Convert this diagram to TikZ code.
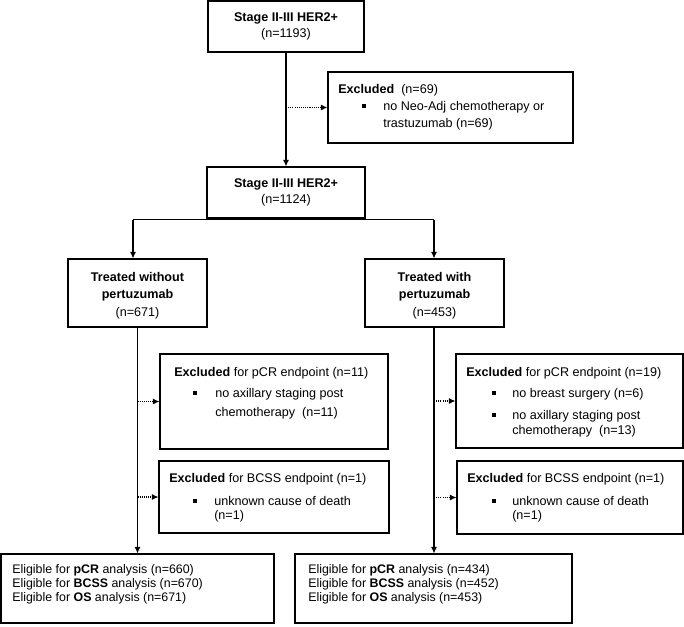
\documentclass[tikz,border=0pt]{standalone}
\usepackage{fontspec}
\setmainfont{Liberation Sans}
\usetikzlibrary{arrows.meta,fit}
\begin{document}
\begin{tikzpicture}[x=0.75pt,y=-0.75pt,
  box/.style={draw, line width=0.8pt, inner sep=0pt},
  txt/.style={anchor=base west, inner sep=0pt, font=\fontsize{9.45}{11}\selectfont},
  ctxt/.style={anchor=base, inner sep=0pt, font=\fontsize{9.45}{11}\selectfont},
  etxt/.style={anchor=base west, inner sep=0pt, font=\fontsize{9.3}{11}\selectfont},
  bul/.style={fill, inner sep=0pt, minimum size=2.5pt},
  arr/.style={line width=0.8pt, -{Latex[length=5pt,width=4.6pt]}},
  darr/.style={line width=0.8pt, dash pattern=on 0.8pt off 0.8pt, -{Latex[length=5pt,width=4.6pt]}},
  ln/.style={line width=0.8pt}]
\useasboundingbox (0,0) rectangle (684,626);

% boxes
\node[box, fit={(208,1)(364,52)}] (A) {};
\node[box, fit={(328,72)(573,143)}] (E1) {};
\node[box, fit={(207,167)(365,218)}] (B) {};
\node[box, fit={(68,259)(207,327)}] (T1) {};
\node[box, fit={(365,259)(504,327)}] (T2) {};
\node[box, fit={(160,354)(388,449)}] (P1) {};
\node[box, fit={(159,461)(389,533)}] (C1) {};
\node[box, fit={(456,354)(683,448)}] (P2) {};
\node[box, fit={(457,461)(683,534)}] (C2) {};
\node[box, fit={(1,554)(274,623)}] (L) {};
\node[box, fit={(295,554)(572,623)}] (R) {};

% texts
\node[ctxt] (a1) at (286,21.5) {\textbf{Stage II-III HER2+}};
\node[ctxt] (a2) at (286,37.5) {(n=1193)};
\node[txt] (e1) at (338,93.5) {\textbf{Excluded}\ \ (n=69)};
\node[bul] (e1b) at (364,106) {};
\node[txt] (e2) at (383,110.5) {no Neo-Adj chemotherapy or};
\node[txt] (e3) at (383,127.5) {trastuzumab (n=69)};
\node[ctxt] (b1) at (286,187.5) {\textbf{Stage II-III HER2+}};
\node[ctxt] (b2) at (286,203.5) {(n=1124)};
\node[ctxt] (t11) at (137.5,281.5) {\textbf{Treated without}};
\node[ctxt] (t12) at (137.5,298.5) {\textbf{pertuzumab}};
\node[ctxt] (t13) at (137.5,316.5) {(n=671)};
\node[ctxt] (t21) at (434.5,281.5) {\textbf{Treated with}};
\node[ctxt] (t22) at (434.5,298.5) {\textbf{pertuzumab}};
\node[ctxt] (t23) at (434.5,316.5) {(n=453)};

\node[txt] (p11) at (174,376.5) {\textbf{Excluded} for pCR endpoint (n=11)};
\node[bul] (p1b) at (195,393) {};
\node[txt] (p12) at (215,397.5) {no axillary staging post};
\node[txt] (p13) at (215,416.5) {chemotherapy\ \ (n=11)};

\node[txt] (c11) at (169,482.5) {\textbf{Excluded} for BCSS endpoint (n=1)};
\node[bul] (c1b) at (195,501) {};
\node[txt] (c12) at (214,505.5) {unknown cause of death};
\node[txt] (c13) at (214,519.5) {(n=1)};

\node[txt] (p21) at (466,376.5) {\textbf{Excluded} for pCR endpoint (n=19)};
\node[bul] (p2b) at (494,393) {};
\node[txt] (p22) at (512,397.5) {no breast surgery (n=6)};
\node[bul] (p2c) at (494,415) {};
\node[txt] (p23) at (512,419.5) {no axillary staging post};
\node[txt] (p24) at (512,434.5) {chemotherapy\ \ (n=13)};

\node[txt] (c21) at (467,482.5) {\textbf{Excluded} for BCSS endpoint (n=1)};
\node[bul] (c2b) at (494,501) {};
\node[txt] (c22) at (512,505.5) {unknown cause of death};
\node[txt] (c23) at (512,519.5) {(n=1)};

\node[etxt] (l1) at (12,573) {Eligible for \textbf{pCR} analysis (n=660)};
\node[etxt] (l2) at (12,587) {Eligible for \textbf{BCSS} analysis (n=670)};
\node[etxt] (l3) at (12,601) {Eligible for \textbf{OS} analysis (n=671)};
\node[etxt] (r1) at (308,573) {Eligible for \textbf{pCR} analysis (n=434)};
\node[etxt] (r2) at (308,587) {Eligible for \textbf{BCSS} analysis (n=452)};
\node[etxt] (r3) at (308,601) {Eligible for \textbf{OS} analysis (n=453)};

% connectors
\draw[arr] (A) -- (B);
\draw[darr] (A.south |- E1.west) -- (E1.west);
\coordinate (bL) at (133,219.5);
\coordinate (bR) at (434,219.5);
\draw[ln] (bL) -- (bR);
\draw[arr] (bL) -- (bL |- T1.north);
\draw[arr] (bR) -- (bR |- T2.north);
\draw[arr] (T1.south) -- (T1.south |- L.north);
\draw[arr] (T2.south -| bR) -- (bR |- R.north);
\draw[darr] (T1.south |- P1.west) -- (P1.west);
\draw[darr] (T1.south |- C1.west) -- (C1.west);
\draw[darr] (bR |- P2.west) -- (P2.west);
\draw[darr] (bR |- C2.west) -- (C2.west);
\end{tikzpicture}
\end{document}
